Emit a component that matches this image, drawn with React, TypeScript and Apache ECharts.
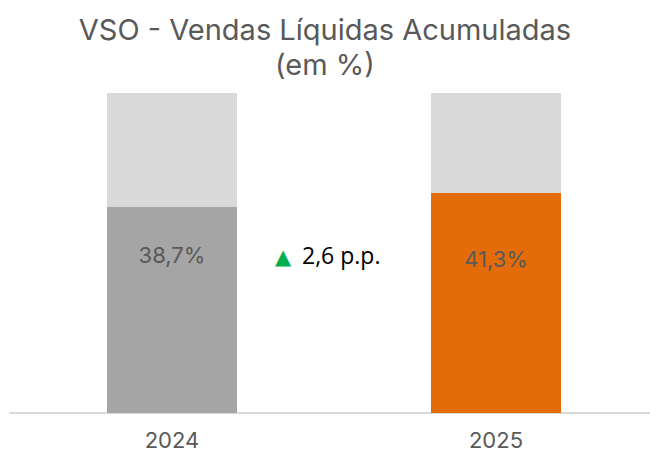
import React, { useEffect, useRef } from "react";
import * as echarts from "echarts";

const categories = ["2024", "2025"];
const values = [38.7, 41.3];
const valueLabels = ["38,7%", "41,3%"];
const axisMax = 60;
const deltaText = "2,6 p.p.";

export default function App() {
  const ref = useRef<HTMLDivElement>(null);
  useEffect(() => {
    document.body.style.margin = "0";
    const chart = echarts.init(ref.current!, null, { renderer: "svg" });
    const font = "Inter, 'Open Sans', sans-serif";
    chart.setOption({
      animation: false,
      title: {
        text: "VSO - Vendas Líquidas Acumuladas\n(em %)",
        left: "center",
        top: 7,
        textStyle: { fontFamily: font, fontSize: 29, fontWeight: "normal", color: "#595959", lineHeight: 35 },
      },
      grid: { left: 10, width: 648, top: 93, bottom: 41, containLabel: false, outerBoundsMode: "none" },
      xAxis: {
        type: "category",
        data: categories,
        axisLine: { lineStyle: { color: "#D9D9D9", width: 2 } },
        axisTick: { show: false },
        axisLabel: { fontFamily: font, fontSize: 22, lineHeight: 18, color: "#595959", margin: 18 },
      },
      yAxis: { type: "value", min: 0, max: axisMax, show: false, splitLine: { show: false } },
      series: [
        {
          type: "bar",
          stack: "a",
          barWidth: 130,
          data: values.map((v, i) => ({
            value: v,
            itemStyle: { color: i === 0 ? "#A5A5A5" : "#E36C09" },
            label: {
              show: true,
              formatter: valueLabels[i],
              position: [65, i === 0 ? 48 : 66],
              align: "center",
              verticalAlign: "middle",
              fontFamily: font,
              fontSize: 22,
              color: "#595959",
            },
          })),
        },
        {
          type: "bar",
          stack: "a",
          barWidth: 130,
          itemStyle: { color: "#D9D9D9" },
          data: values.map((v) => axisMax - v),
        },
      ],
      graphic: [
        {
          type: "text",
          left: 275,
          top: 246,
          style: { text: "▲", fill: "#00B050", fontSize: 21, fontFamily: "DejaVu Sans" },
        },
        {
          type: "text",
          left: 302,
          top: 243,
          style: { text: deltaText, fill: "#000000", fontSize: 23, fontFamily: "'Open Sans', sans-serif" },
        },
      ],
    });
    return () => chart.dispose();
  }, []);
  return <div ref={ref} style={{ width: 650, height: 454 }} />;
}
